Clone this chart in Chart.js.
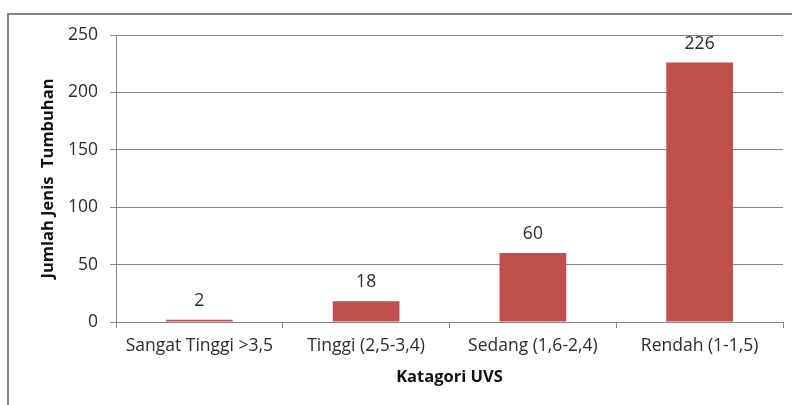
<!DOCTYPE html>
<html>
<head>
<meta charset="utf-8">
<script src="https://cdn.jsdelivr.net/npm/chart.js@4.4.0/dist/chart.umd.min.js"></script>
<style>
  html, body { margin: 0; padding: 0; background: #fff; overflow: hidden; }
  #wrap { position: relative; width: 792px; height: 405px; }
  #frame { position: absolute; left: 7px; top: 13px; width: 820px; height: 420px;
           border: 2px solid #868686; box-sizing: border-box; }
  canvas { position: absolute; left: 0; top: 0; }
</style>
</head>
<body>
<div id="wrap">
  <div id="frame"></div>
  <canvas id="myChart" width="792" height="405"></canvas>
</div>
<script>
// chart data
const categories = ['Sangat Tinggi >3,5', 'Tinggi (2,5-3,4)', 'Sedang (1,6-2,4)', 'Rendah (1-1,5)'];
const values = [2, 18, 60, 226];
const yTicks = [0, 50, 100, 150, 200, 250];

const fontFamily = "'Open Sans', 'Liberation Sans', sans-serif";

// draws the number above every bar
const barLabels = {
    id: 'barLabels',
    afterDatasetsDraw(chart) {
        const ctx = chart.ctx;
        const meta = chart.getDatasetMeta(0);
        ctx.save();
        ctx.font = '17.5px ' + fontFamily;
        ctx.fillStyle = '#2b2b2b';
        ctx.textAlign = 'center';
        ctx.textBaseline = 'middle';
        meta.data.forEach((bar, i) => {
            ctx.fillText(String(values[i]), bar.x, bar.y - 19);
        });
        ctx.restore();
    }
};

var ctx = document.getElementById('myChart').getContext('2d');
var myChart = new Chart(ctx, {
    type: 'bar',
    data: {
        labels: categories,
        datasets: [{
            data: values,
            backgroundColor: '#C0504D',
            borderWidth: 0,
            barPercentage: 0.4,
            categoryPercentage: 1.0
        }]
    },
    options: {
        responsive: false,
        animation: false,
        layout: { padding: { left: 0, right: 9, top: 35, bottom: 0 } },
        plugins: {
            legend: { display: false },
            tooltip: { enabled: false }
        },
        scales: {
            x: {
                grid: {
                    offset: true,
                    drawOnChartArea: false,
                    color: '#868686',
                    tickLength: 6
                },
                border: { color: '#868686' },
                ticks: {
                    color: '#2b2b2b',
                    padding: 8,
                    font: { family: fontFamily, size: 17.5 },
                    maxRotation: 0
                },
                title: {
                    display: true,
                    text: 'Katagori UVS',
                    color: '#111111',
                    font: { family: fontFamily, size: 16.5, weight: 'bold' },
                    padding: { top: 0, bottom: 18 }
                },
                afterFit(scale) { scale.height = 83; }
            },
            y: {
                min: 0,
                max: 250,
                afterBuildTicks(scale) {
                    scale.ticks = yTicks.map(v => ({ value: v }));
                },
                grid: {
                    color: '#868686',
                    tickLength: 6
                },
                border: { color: '#868686' },
                ticks: {
                    color: '#2b2b2b',
                    padding: 12,
                    font: { family: fontFamily, size: 17.5 }
                },
                title: {
                    display: true,
                    text: 'Jumlah Jenis  Tumbuhan',
                    color: '#111111',
                    font: { family: fontFamily, size: 16.5, weight: 'bold' },
                    padding: { top: 38, bottom: 0 }
                },
                afterFit(scale) { scale.width = 116; }
            }
        }
    },
    plugins: [barLabels]
});
</script>
</body>
</html>
